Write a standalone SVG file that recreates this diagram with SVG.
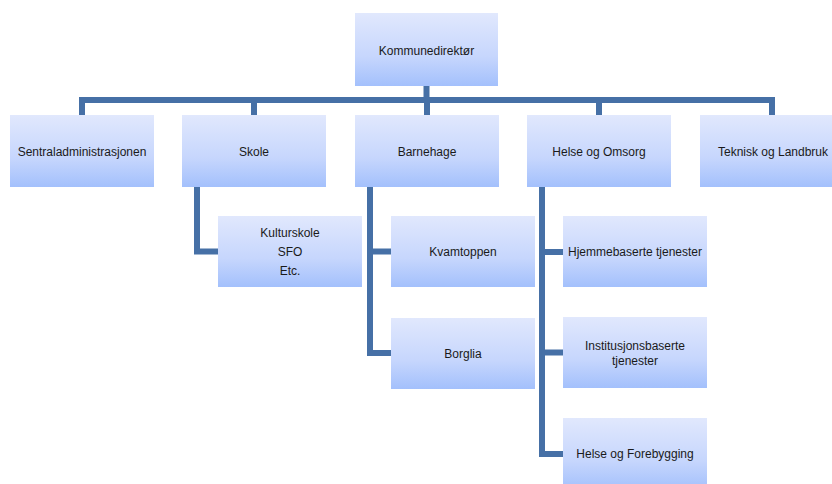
<svg xmlns="http://www.w3.org/2000/svg" width="832" height="484" viewBox="0 0 832 484">
<defs>
<linearGradient id="g" x1="0" y1="0" x2="0" y2="1">
<stop offset="0" stop-color="#e1e8fd"/>
<stop offset="0.6" stop-color="#c6d6fd"/>
<stop offset="1" stop-color="#a3c0fc"/>
</linearGradient>
</defs>
<style>
.box{fill:url(#g);}
.t{font-family:"Liberation Sans",Arial,sans-serif;font-size:12px;fill:#1a1a1a;text-anchor:middle;dominant-baseline:central;}
.c{fill:none;stroke:#4670a6;stroke-width:6;}
</style>
<rect width="832" height="484" fill="#ffffff"/>
<g id="connectors">
<path class="c" d="M426.5,86 V100 M82,115 V100 H772 V115 M254,100 V115 M427,100 V115 M599,100 V115"/>
<path class="c" d="M197,187 V251.5 H218"/>
<path class="c" d="M370,187 V353 H391 M370,251.5 H391"/>
<path class="c" d="M542,187 V454 H563 M542,252 H563 M542,352.5 H563"/>
</g>
<g id="kommunedirektor"><rect class="box" x="355" y="13" width="143" height="73"/><text class="t" x="426.5" y="51">Kommunedirektør</text></g>
<g id="sentraladministrasjonen"><rect class="box" x="10" y="115" width="144" height="72"/><text class="t" x="82" y="152">Sentraladministrasjonen</text></g>
<g id="skole"><rect class="box" x="182" y="115" width="144" height="72"/><text class="t" x="254" y="152">Skole</text></g>
<g id="barnehage"><rect class="box" x="355" y="115" width="144" height="72"/><text class="t" x="427" y="152">Barnehage</text></g>
<g id="helse-omsorg"><rect class="box" x="527" y="115" width="144" height="72"/><text class="t" x="599" y="152">Helse og Omsorg</text></g>
<g id="teknisk"><rect class="box" x="700" y="115" width="145" height="72"/><text class="t" x="773" y="152">Teknisk og Landbruk</text></g>
<g id="kulturskole"><rect class="box" x="218" y="216" width="144" height="71"/><text class="t" x="290" y="233">Kulturskole</text><text class="t" x="290" y="252">SFO</text><text class="t" x="290" y="271">Etc.</text></g>
<g id="kvamtoppen"><rect class="box" x="391" y="216" width="144" height="71"/><text class="t" x="463" y="252">Kvamtoppen</text></g>
<g id="borglia"><rect class="box" x="391" y="318" width="144" height="71"/><text class="t" x="463" y="354">Borglia</text></g>
<g id="hjemmebaserte"><rect class="box" x="563" y="216" width="144" height="71"/><text class="t" x="635" y="252">Hjemmebaserte tjenester</text></g>
<g id="institusjonsbaserte"><rect class="box" x="563" y="317" width="144" height="71"/><text class="t" x="635" y="346">Institusjonsbaserte</text><text class="t" x="635" y="361">tjenester</text></g>
<g id="helse-forebygging"><rect class="box" x="563" y="418" width="144" height="72"/><text class="t" x="635" y="454">Helse og Forebygging</text></g>
</svg>
